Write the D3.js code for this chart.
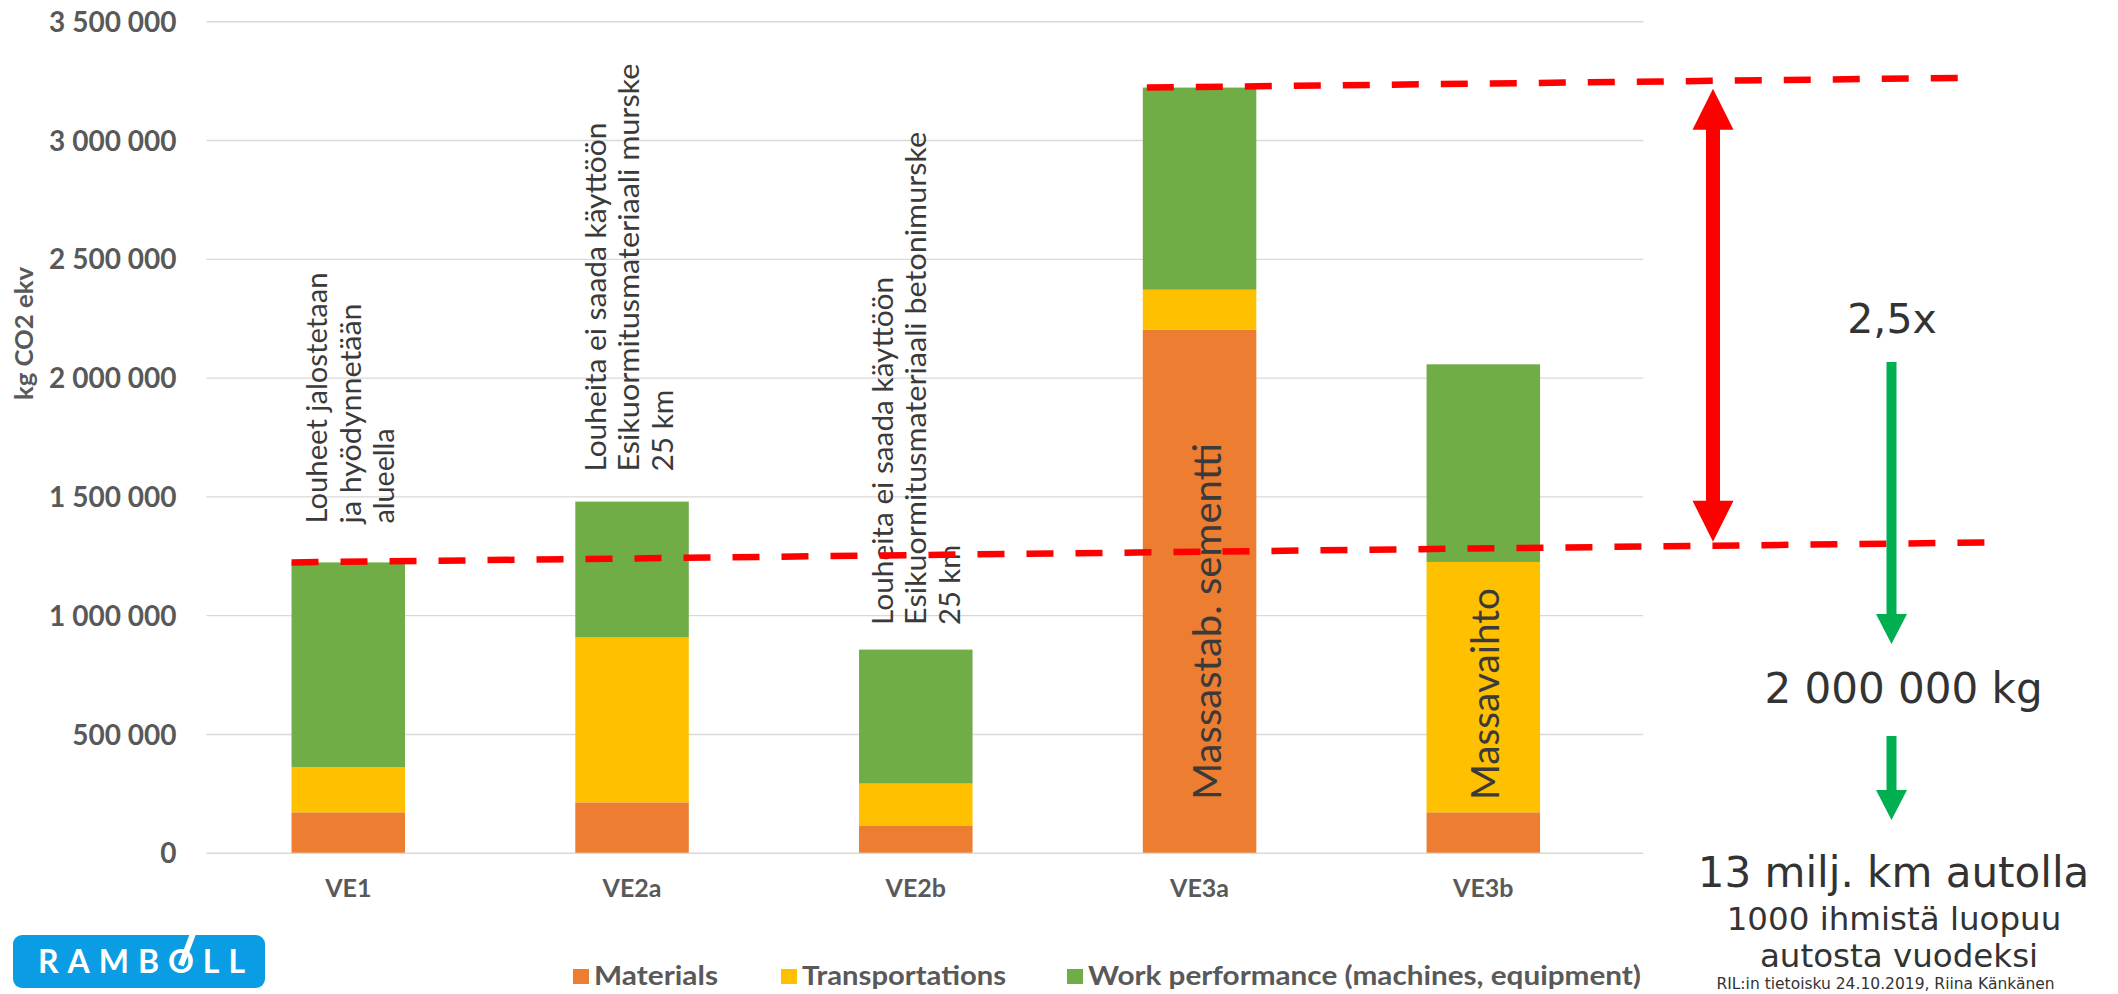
<!DOCTYPE html>
<html>
<head>
<meta charset="utf-8">
<script src="https://cdn.jsdelivr.net/npm/d3@7"></script>
<style>
  html, body { margin: 0; padding: 0; background: #ffffff; }
  svg { display: block; }
</style>
</head>
<body>
<svg id="chart" width="2118" height="994"></svg>
<script>
// ---- data -------------------------------------------------------------
const categories = ["VE1", "VE2a", "VE2b", "VE3a", "VE3b"];
const materials       = [170000,  212000, 115000, 2202000,  170000];
const transportations = [190000,  694000, 176000,  168000, 1054000];
const workPerformance = [862000,  572000, 564000,  851000,  832000];

const seriesKeys   = ["materials", "transportations", "work"];
const seriesLabels = ["Materials", "Transportations", "Work performance (machines, equipment)"];
const yTicks = [0, 500000, 1000000, 1500000, 2000000, 2500000, 3000000, 3500000];
const yTitle = "kg CO2 ekv";

// notes written above / inside the bars
const noteLines = {
  VE1:  ["Louheet jalostetaan", "ja hyödynnetään", "alueella"],
  VE2a: ["Louheita ei saada käyttöön", "Esikuormitusmateriaali murske", "25 km"],
  VE2b: ["Louheita ei saada käyttöön", "Esikuormitusmateriaali betonimurske", "25 km"],
  VE3a: ["Massastab. sementti"],
  VE3b: ["Massavaihto"]
};

// level of the dashed guide lines (start at a bar total, end beyond the plot)
const guideEndValues = { lower: 1306000, upper: 3262000 };

const sideNotes = {
  ratio: "2,5x",
  amount: "2 000 000 kg",
  cars: "13 milj. km autolla",
  people1: "1000 ihmistä luopuu",
  people2: "autosta vuodeksi",
  source: "RIL:in tietoisku 24.10.2019, Riina Känkänen"
};

// ---- layout -----------------------------------------------------------
const plot = { left: 206.4, right: 1625.2, gridRight: 1643.3, top: 21.3, bottom: 852.7 };
const colors = { materials: "#ED7D31", transportations: "#FFC000", work: "#70AD47" };
const axisGrey = "#595959";
const noteGrey = "#3a3a3a";
const uiFont = "Lato, 'Open Sans', sans-serif";

const svg = d3.select("#chart");

const x = d3.scaleBand()
  .domain(categories)
  .range([plot.left, plot.right])
  .paddingInner(0.6)
  .paddingOuter(0.3);

const y = d3.scaleLinear()
  .domain([0, 3500000])
  .range([plot.bottom, plot.top]);

const fi = d3.formatLocale({ decimal: ",", thousands: " ", grouping: [3], currency: ["", ""] });
const fmt = fi.format(",d");

// ---- grid + y axis ----------------------------------------------------
const yAxis = d3.axisLeft(y)
  .tickValues(yTicks)
  .tickFormat(fmt)
  .tickSize(-(plot.gridRight - plot.left))
  .tickPadding(30);

const gy = svg.append("g")
  .attr("transform", `translate(${plot.left},0)`)
  .call(yAxis);
gy.select(".domain").remove();
gy.selectAll(".tick line").attr("stroke", "#D9D9D9").attr("stroke-width", 1.4);
gy.selectAll(".tick text")
  .attr("fill", axisGrey)
  .style("font-family", uiFont)
  .style("font-weight", 700)
  .style("font-size", "28px")
  .attr("dy", "0.36em");

svg.append("text")
  .attr("transform", `translate(33,333.5) rotate(-90)`)
  .attr("text-anchor", "middle")
  .attr("fill", axisGrey)
  .attr("textLength", 133)
  .attr("lengthAdjust", "spacingAndGlyphs")
  .style("font-family", uiFont)
  .style("font-weight", 700)
  .style("font-size", "25px")
  .text(yTitle);

// ---- x axis labels ----------------------------------------------------
const xAxis = d3.axisBottom(x).tickSize(0).tickPadding(0);
const gx = svg.append("g")
  .attr("transform", `translate(0,${plot.bottom})`)
  .call(xAxis);
gx.select(".domain").remove();
gx.selectAll(".tick text")
  .attr("y", 44.6)
  .attr("dy", 0)
  .attr("fill", axisGrey)
  .style("font-family", uiFont)
  .style("font-weight", 700)
  .style("font-size", "25px");

// ---- stacked bars -----------------------------------------------------
const table = categories.map((c, i) => ({
  category: c,
  materials: materials[i],
  transportations: transportations[i],
  work: workPerformance[i]
}));
const stacked = d3.stack().keys(seriesKeys)(table);

svg.append("g")
  .selectAll("g")
  .data(stacked)
  .join("g")
  .attr("fill", d => colors[d.key])
  .selectAll("rect")
  .data(d => d)
  .join("rect")
  .attr("x", d => x(d.data.category))
  .attr("width", x.bandwidth())
  .attr("y", d => y(d[1]))
  .attr("height", d => y(d[0]) - y(d[1]));

const totals = categories.map((c, i) => materials[i] + transportations[i] + workPerformance[i]);
const totalOf = c => totals[categories.indexOf(c)];

// ---- notes above bars (rotated, one text per line) -------------------
const aboveNotes = [
  { cat: "VE1",  dx: -21,   gap: 39,   widths: [251, 220, 95] },
  { cat: "VE2a", dx: -26,   gap: 30,   widths: [349, 408, 82] },
  { cat: "VE2b", dx: -22.7, gap: 24.7, widths: [348, 493, 80] }
];
const lineStep = 33.3;
aboveNotes.forEach(n => {
  const cx = x(n.cat) + x.bandwidth() / 2;
  const startY = y(totalOf(n.cat)) - n.gap;
  noteLines[n.cat].forEach((line, i) => {
    svg.append("text")
      .attr("transform", `translate(${cx + n.dx + i * lineStep},${startY}) rotate(-90)`)
      .attr("fill", noteGrey)
      .attr("textLength", n.widths[i])
      .attr("lengthAdjust", "spacingAndGlyphs")
      .style("font-family", uiFont)
      .style("font-weight", 400)
      .style("font-size", "28px")
      .text(line);
  });
});

// notes inside the tall bars
const insideNotes = [
  { cat: "VE3a", dx: 21,   width: 357 },
  { cat: "VE3b", dx: 15.7, width: 212 }
];
insideNotes.forEach(n => {
  const cx = x(n.cat) + x.bandwidth() / 2;
  svg.append("text")
    .attr("transform", `translate(${cx + n.dx},${plot.bottom - 52.7}) rotate(-90)`)
    .attr("fill", noteGrey)
    .attr("textLength", n.width)
    .attr("lengthAdjust", "spacingAndGlyphs")
    .style("font-family", uiFont)
    .style("font-weight", 400)
    .style("font-size", "38px")
    .text(noteLines[n.cat][0]);
});

// ---- dashed guide lines ----------------------------------------------
const guides = {
  lower: { x1: x("VE1"),      v1: totalOf("VE1"),  x2: 1989, v2: guideEndValues.lower },
  upper: { x1: x("VE3a") + 4, v1: totalOf("VE3a"), x2: 1962, v2: guideEndValues.upper }
};
const guideY = (g, px) => y(g.v1) + (y(g.v2) - y(g.v1)) * (px - g.x1) / (g.x2 - g.x1);

Object.values(guides).forEach(g => {
  svg.append("line")
    .attr("x1", g.x1).attr("y1", y(g.v1))
    .attr("x2", g.x2).attr("y2", y(g.v2))
    .attr("stroke", "#FF0000")
    .attr("stroke-width", 6.5)
    .attr("stroke-dasharray", "27 22");
});

// ---- arrows -----------------------------------------------------------
function arrowDown(x0, yTop, yTip, shaft, headW, headL) {
  return [
    [x0 - shaft / 2, yTop], [x0 + shaft / 2, yTop],
    [x0 + shaft / 2, yTip - headL], [x0 + headW / 2, yTip - headL],
    [x0, yTip],
    [x0 - headW / 2, yTip - headL], [x0 - shaft / 2, yTip - headL]
  ];
}
function arrowBoth(x0, yTopTip, yBotTip, shaft, headW, headL) {
  return [
    [x0, yTopTip],
    [x0 + headW / 2, yTopTip + headL], [x0 + shaft / 2, yTopTip + headL],
    [x0 + shaft / 2, yBotTip - headL], [x0 + headW / 2, yBotTip - headL],
    [x0, yBotTip],
    [x0 - headW / 2, yBotTip - headL], [x0 - shaft / 2, yBotTip - headL],
    [x0 - shaft / 2, yTopTip + headL], [x0 - headW / 2, yTopTip + headL]
  ];
}
const pathOf = pts => "M" + pts.map(p => p.join(",")).join("L") + "Z";

const redX = 1713;
svg.append("path")
  .attr("d", pathOf(arrowBoth(redX, guideY(guides.upper, redX) + 8, guideY(guides.lower, redX) - 4, 14, 41, 41)))
  .attr("fill", "#FF0000");

const greenX = 1891.5;
svg.append("path")
  .attr("d", pathOf(arrowDown(greenX, 362, 644, 10, 31, 30)))
  .attr("fill", "#00B050");
svg.append("path")
  .attr("d", pathOf(arrowDown(greenX, 736, 820, 10, 31, 30)))
  .attr("fill", "#00B050");

// ---- side notes -------------------------------------------------------
const sideFont = "'DejaVu Sans', Verdana, sans-serif";
const side = [
  { t: sideNotes.ratio,   x: 1892,   y: 333,   s: 41 },
  { t: sideNotes.amount,  x: 1903.5, y: 703,   s: 42 },
  { t: sideNotes.cars,    x: 1893.5, y: 886.7, s: 42 },
  { t: sideNotes.people1, x: 1894,   y: 930,   s: 32.5 },
  { t: sideNotes.people2, x: 1899,   y: 967.3, s: 32.5 },
  { t: sideNotes.source,  x: 1885.5, y: 988.5, s: 15.5 }
];
side.forEach(d => {
  svg.append("text")
    .attr("x", d.x).attr("y", d.y)
    .attr("text-anchor", "middle")
    .attr("fill", "#333333")
    .style("font-family", sideFont)
    .style("font-size", d.s + "px")
    .text(d.t);
});

// ---- legend -----------------------------------------------------------
const legendItems = [
  { key: "materials",       x: 573,  width: 124 },
  { key: "transportations", x: 781,  width: 204 },
  { key: "work",            x: 1067, width: 553 }
];
const legendBase = 985;
const lg = svg.append("g");
legendItems.forEach((it, i) => {
  lg.append("rect")
    .attr("x", it.x).attr("y", legendBase - 16)
    .attr("width", 16).attr("height", 15)
    .attr("fill", colors[it.key]);
  lg.append("text")
    .attr("x", it.x + 21).attr("y", legendBase)
    .attr("fill", axisGrey)
    .attr("textLength", it.width)
    .attr("lengthAdjust", "spacingAndGlyphs")
    .style("font-family", uiFont)
    .style("font-weight", 700)
    .style("font-size", "27px")
    .text(seriesLabels[i]);
});

// ---- logo -------------------------------------------------------------
const logo = svg.append("g");
logo.append("rect")
  .attr("x", 13).attr("y", 935).attr("width", 252).attr("height", 53)
  .attr("rx", 9).attr("fill", "#0A9DE3");
const logoText = logo.append("text")
  .attr("x", 38).attr("y", 973.3)
  .attr("fill", "#ffffff")
  .attr("textLength", 207)
  .attr("lengthAdjust", "spacing")
  .style("font-family", uiFont)
  .style("font-weight", 700)
  .style("font-size", "32px")
  .text("RAMBOLL");
const oBox = logoText.node().getExtentOfChar(4);
logo.append("line")
  .attr("x1", oBox.x + oBox.width * 0.5).attr("y1", oBox.y + oBox.height * 0.62)
  .attr("x2", oBox.x + oBox.width * 1.05).attr("y2", 928)
  .attr("stroke", "#ffffff")
  .attr("stroke-width", 6)
  .attr("stroke-linecap", "butt");
</script>
</body>
</html>
